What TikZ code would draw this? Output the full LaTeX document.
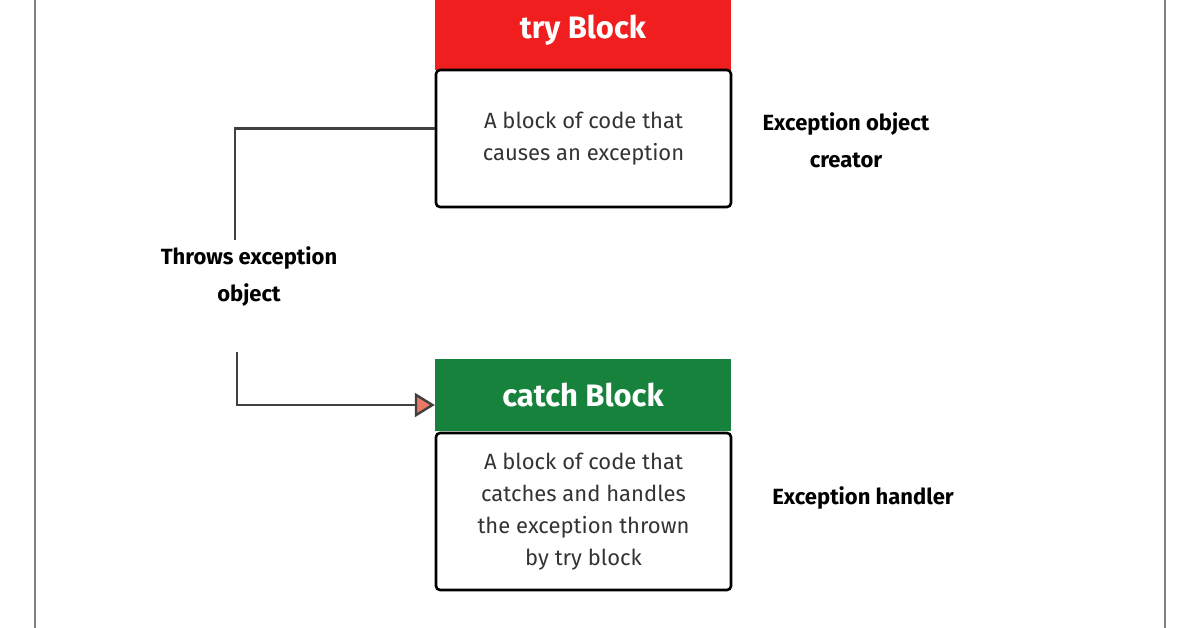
\documentclass[tikz,border=0pt]{standalone}
\usepackage{fontspec}
\setmainfont{Fira Sans}
\usetikzlibrary{arrows.meta, positioning}
\definecolor{tryred}{RGB}{240,30,30}
\definecolor{catchgreen}{RGB}{22,130,60}
\definecolor{tipred}{RGB}{235,120,100}
\tikzset{
    head/.style={minimum width=296pt,minimum height=72pt,inner sep=0pt,text=white,font=\bfseries\fontsize{31}{36}\selectfont},
    body/.style={draw,line width=2.6pt,rounded corners=4pt,minimum width=295pt,inner sep=0pt,align=center,text=black!80,font=\fontsize{22}{32}\selectfont},
    note/.style={align=center,inner sep=0pt,font=\bfseries\fontsize{22}{37}\selectfont},
    conn/.style={draw,line width=2.2pt,black!75},
}
\begin{document}
\begin{tikzpicture}[x=1pt,y=-1pt]
\useasboundingbox (0,0) rectangle (1196,628);
\draw[line width=2pt,gray] (35,0) -- (35,628) (1165,0) -- (1165,628);
% try side
\node[head,fill=tryred,minimum height=80pt] (thead) at (583,30) {try Block};
\node[body,minimum height=137pt] (tbody) at (583.5,138.5) {A block of code that\\causes an exception};
\node[note] (creator) at (846,140) {Exception object\\creator};
% catch side
\node[head,fill=catchgreen] (chead) at (583,395) {catch Block};
\node[body,minimum height=157pt] (cbody) at (583.5,511.5) {A block of code that\\catches and handles\\the exception thrown\\by try block};
\node[note] (handler) at (863,498) {Exception handler};
% connector
\node[note] (throws) at (249,277) {Throws exception\\object};
\coordinate (rise) at (235,240);
\coordinate (drop) at (237,352);
\draw[conn] ([yshift=10pt]tbody.west) -| (rise);
\draw[conn,-{Triangle[open,fill=tipred,length=20pt,width=24pt,line width=2.4pt]}] (drop) |- ([yshift=-10pt]chead.west);
\end{tikzpicture}
\end{document}
